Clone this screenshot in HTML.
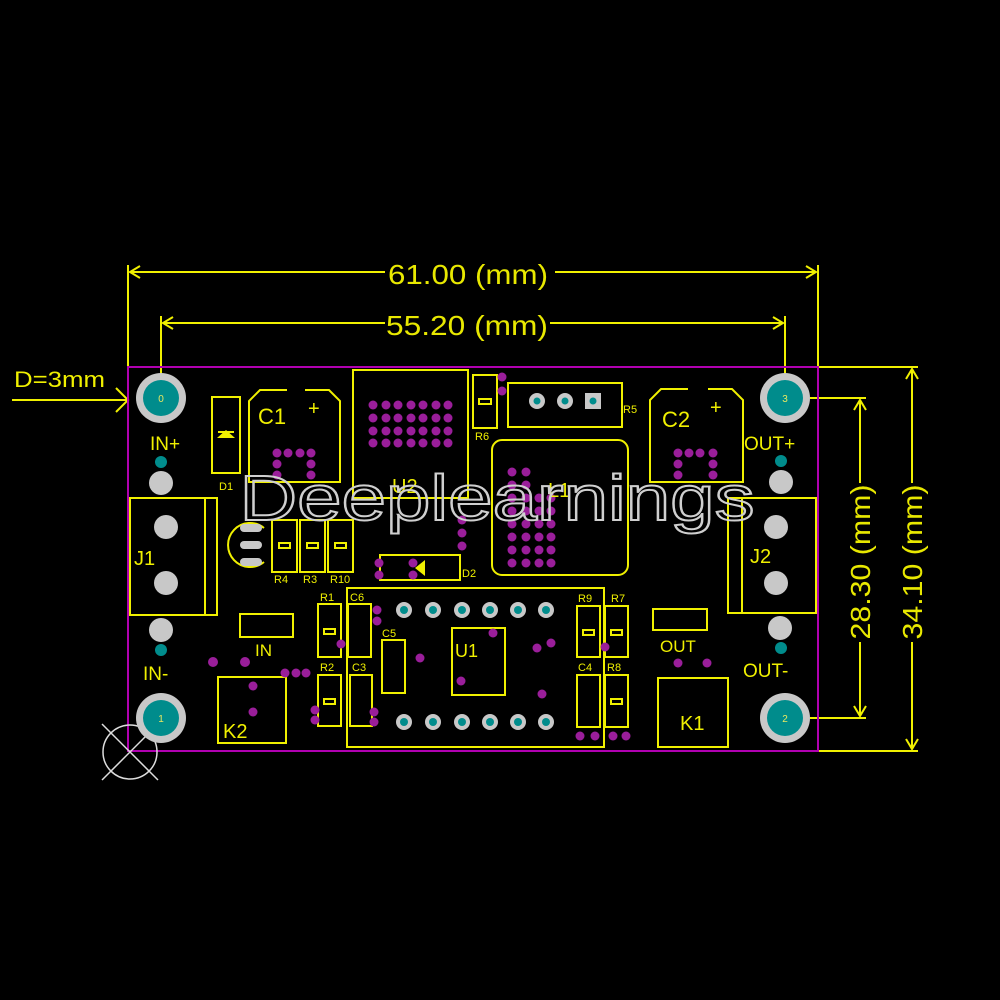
<!DOCTYPE html>
<html><head><meta charset="utf-8"><style>
html,body{margin:0;padding:0;background:#000;width:1000px;height:1000px;overflow:hidden}
svg{display:block}
text{font-family:"Liberation Sans",sans-serif}
</style></head><body>
<svg width="1000" height="1000" viewBox="0 0 1000 1000" xmlns="http://www.w3.org/2000/svg">
<rect width="1000" height="1000" fill="#000"/>
<g stroke="#f0f000" stroke-width="2" fill="none">
<line x1="128" y1="265" x2="128" y2="367"/><line x1="818" y1="265" x2="818" y2="367"/>
<line x1="130" y1="272" x2="385" y2="272"/><line x1="555" y1="272" x2="816" y2="272"/>
<polyline points="140,266 130,272 140,278"/><polyline points="806,266 816,272 806,278"/>
<line x1="161" y1="316" x2="161" y2="375"/><line x1="785" y1="316" x2="785" y2="375"/>
<line x1="163" y1="323" x2="385" y2="323"/><line x1="550" y1="323" x2="783" y2="323"/>
<polyline points="173,317 163,323 173,329"/><polyline points="773,317 783,323 773,329"/>
<line x1="818" y1="367" x2="918" y2="367"/><line x1="818" y1="751" x2="918" y2="751"/>
<line x1="912" y1="369" x2="912" y2="483"/><line x1="912" y1="642" x2="912" y2="749"/>
<polyline points="906,379 912,369 918,379"/><polyline points="906,739 912,749 918,739"/>
<line x1="810" y1="398" x2="866" y2="398"/><line x1="810" y1="718" x2="866" y2="718"/>
<line x1="860" y1="400" x2="860" y2="483"/><line x1="860" y1="642" x2="860" y2="716"/>
<polyline points="854,410 860,400 866,410"/><polyline points="854,706 860,716 866,706"/>
<line x1="12" y1="400" x2="128" y2="400"/><polyline points="116,388 128,400 116,412"/>
</g>
<g fill="#e8e800">
<text x="468" y="284" font-size="28" text-anchor="middle" font-family="Liberation Mono,monospace" textLength="160" lengthAdjust="spacingAndGlyphs">61.00 (mm)</text>
<text x="467" y="335" font-size="28" text-anchor="middle" font-family="Liberation Mono,monospace" textLength="162" lengthAdjust="spacingAndGlyphs">55.20 (mm)</text>
<text transform="translate(870,562) rotate(-90)" font-size="28" text-anchor="middle" font-family="Liberation Mono,monospace" textLength="155" lengthAdjust="spacingAndGlyphs">28.30 (mm)</text>
<text transform="translate(922,562) rotate(-90)" font-size="28" text-anchor="middle" font-family="Liberation Mono,monospace" textLength="155" lengthAdjust="spacingAndGlyphs">34.10 (mm)</text>
</g>
<text x="14" y="387" font-size="22" fill="#f0f000" textLength="91" lengthAdjust="spacingAndGlyphs">D=3mm</text>
<rect x="128" y="367" width="690" height="384" fill="none" stroke="#b000b0" stroke-width="2"/>
<g stroke="#ddd" stroke-width="1.5" fill="none"><circle cx="130" cy="752" r="27"/><line x1="102" y1="724" x2="158" y2="780"/><line x1="158" y1="724" x2="102" y2="780"/></g>
<g>
<circle cx="161" cy="398" r="25" fill="#c8c8c8"/><circle cx="161" cy="398" r="18" fill="#008c8c"/>
<circle cx="785" cy="398" r="25" fill="#c8c8c8"/><circle cx="785" cy="398" r="18" fill="#008c8c"/>
<circle cx="161" cy="718" r="25" fill="#c8c8c8"/><circle cx="161" cy="718" r="18" fill="#008c8c"/>
<circle cx="785" cy="718" r="25" fill="#c8c8c8"/><circle cx="785" cy="718" r="18" fill="#008c8c"/>
</g>
<g fill="#e8e860" font-size="10" text-anchor="middle"><text x="161" y="402">0</text><text x="785" y="402">3</text><text x="161" y="722">1</text><text x="785" y="722">2</text></g>
<g fill="#c8c8c8">
<circle cx="161" cy="483" r="12"/><circle cx="166" cy="527" r="12"/><circle cx="166" cy="583" r="12"/><circle cx="161" cy="630" r="12"/>
<circle cx="781" cy="482" r="12"/><circle cx="776" cy="527" r="12"/><circle cx="776" cy="583" r="12"/><circle cx="780" cy="628" r="12"/>
</g>
<g fill="#008c8c"><circle cx="161" cy="462" r="6"/><circle cx="161" cy="650" r="6"/><circle cx="781" cy="461" r="6"/><circle cx="781" cy="648" r="6"/></g>
<g stroke="#f0f000" stroke-width="2" fill="none">
<rect x="212" y="397" width="28" height="76"/>
<line x1="218" y1="432" x2="234" y2="432"/>
<path d="M287,390 H260 L249,401 V482 H340 V401 L329,390 H305"/>
<rect x="353" y="370" width="115" height="128"/>
<rect x="473" y="375" width="24" height="53"/>
<rect x="479" y="399" width="12" height="5"/>
<rect x="508" y="383" width="114" height="44"/>
<rect x="492" y="440" width="136" height="135" rx="10"/>
<path d="M688,389 H661 L650,400 V482 H743 V400 L732,389 H708"/>
<rect x="130" y="498" width="87" height="117"/><line x1="205" y1="498" x2="205" y2="615"/>
<rect x="728" y="498" width="88" height="115"/><line x1="742" y1="498" x2="742" y2="613"/>
<path d="M264,528 A22,22 0 1,0 264,562"/>
<rect x="272" y="520" width="25" height="52"/><rect x="300" y="520" width="25" height="52"/><rect x="328" y="520" width="25" height="52"/>
<rect x="279" y="543" width="11" height="5"/><rect x="307" y="543" width="11" height="5"/><rect x="335" y="543" width="11" height="5"/>
<rect x="380" y="555" width="80" height="25"/>
<rect x="347" y="588" width="257" height="159"/>
<rect x="452" y="628" width="53" height="67"/>
<rect x="318" y="604" width="23" height="53"/><rect x="348" y="604" width="23" height="53"/><rect x="382" y="640" width="23" height="53"/>
<rect x="318" y="675" width="23" height="51"/><rect x="350" y="675" width="22" height="51"/>
<rect x="324" y="629" width="11" height="5"/><rect x="324" y="699" width="11" height="5"/>
<rect x="577" y="606" width="23" height="51"/><rect x="605" y="606" width="23" height="51"/>
<rect x="577" y="675" width="23" height="52"/><rect x="605" y="675" width="23" height="52"/>
<rect x="583" y="630" width="11" height="5"/><rect x="611" y="630" width="11" height="5"/><rect x="611" y="699" width="11" height="5"/>
<rect x="240" y="614" width="53" height="23"/><rect x="653" y="609" width="54" height="21"/>
<rect x="218" y="677" width="68" height="66"/><rect x="658" y="678" width="70" height="69"/>
</g>
<polygon points="217,438 235,438 226,430" fill="#f0f000"/>
<polygon points="415,568 425,560 425,576" fill="#f0f000"/>
<g fill="#c8c8c8"><rect x="240" y="524" width="22" height="8" rx="4"/><rect x="240" y="541" width="22" height="8" rx="4"/><rect x="240" y="558" width="22" height="8" rx="4"/></g>
<g fill="#c8c8c8"><circle cx="537" cy="401" r="8"/><circle cx="565" cy="401" r="8"/><rect x="585" y="393" width="16" height="16"/></g>
<g fill="#008c8c"><circle cx="537" cy="401" r="3.5"/><circle cx="565" cy="401" r="3.5"/><circle cx="593" cy="401" r="3.5"/></g>
<g fill="#c8c8c8">
<circle cx="404" cy="610" r="8"/><circle cx="433" cy="610" r="8"/><circle cx="462" cy="610" r="8"/><circle cx="490" cy="610" r="8"/><circle cx="518" cy="610" r="8"/><circle cx="546" cy="610" r="8"/>
<circle cx="404" cy="722" r="8"/><circle cx="433" cy="722" r="8"/><circle cx="462" cy="722" r="8"/><circle cx="490" cy="722" r="8"/><circle cx="518" cy="722" r="8"/><circle cx="546" cy="722" r="8"/>
</g>
<g fill="#008c8c">
<circle cx="404" cy="610" r="4"/><circle cx="433" cy="610" r="4"/><circle cx="462" cy="610" r="4"/><circle cx="490" cy="610" r="4"/><circle cx="518" cy="610" r="4"/><circle cx="546" cy="610" r="4"/>
<circle cx="404" cy="722" r="4"/><circle cx="433" cy="722" r="4"/><circle cx="462" cy="722" r="4"/><circle cx="490" cy="722" r="4"/><circle cx="518" cy="722" r="4"/><circle cx="546" cy="722" r="4"/>
</g>
<g fill="#9a1e9a">
<g id="u2g">
<circle cx="373" cy="405" r="4.5"/><circle cx="386" cy="405" r="4.5"/><circle cx="398" cy="405" r="4.5"/><circle cx="411" cy="405" r="4.5"/><circle cx="423" cy="405" r="4.5"/><circle cx="436" cy="405" r="4.5"/><circle cx="448" cy="405" r="4.5"/>
</g>
<use href="#u2g" y="13"/><use href="#u2g" y="26"/><use href="#u2g" y="38"/>
<circle cx="277" cy="453" r="4.5"/><circle cx="288" cy="453" r="4.5"/><circle cx="300" cy="453" r="4.5"/><circle cx="311" cy="453" r="4.5"/>
<circle cx="277" cy="464" r="4.5"/><circle cx="311" cy="464" r="4.5"/><circle cx="277" cy="475" r="4.5"/><circle cx="311" cy="475" r="4.5"/>
<circle cx="678" cy="453" r="4.5"/><circle cx="689" cy="453" r="4.5"/><circle cx="700" cy="453" r="4.5"/><circle cx="713" cy="453" r="4.5"/>
<circle cx="678" cy="464" r="4.5"/><circle cx="713" cy="464" r="4.5"/><circle cx="678" cy="475" r="4.5"/><circle cx="713" cy="475" r="4.5"/>
<g id="l1g"><circle cx="512" cy="498" r="4.5"/><circle cx="526" cy="498" r="4.5"/><circle cx="539" cy="498" r="4.5"/><circle cx="551" cy="498" r="4.5"/></g>
<use href="#l1g" y="13"/><use href="#l1g" y="26"/><use href="#l1g" y="39"/><use href="#l1g" y="52"/><use href="#l1g" y="65"/>
<circle cx="512" cy="485" r="4.5"/><circle cx="526" cy="485" r="4.5"/><circle cx="512" cy="472" r="4.5"/><circle cx="526" cy="472" r="4.5"/>
<circle cx="462" cy="520" r="4.5"/><circle cx="462" cy="533" r="4.5"/><circle cx="462" cy="546" r="4.5"/>
<circle cx="379" cy="563" r="4.5"/><circle cx="379" cy="575" r="4.5"/><circle cx="413" cy="563" r="4.5"/><circle cx="413" cy="575" r="4.5"/>
<circle cx="502" cy="377" r="4.5"/><circle cx="502" cy="391" r="4.5"/>
<circle cx="213" cy="662" r="5"/><circle cx="245" cy="662" r="5"/><circle cx="285" cy="673" r="4.5"/><circle cx="296" cy="673" r="4.5"/><circle cx="306" cy="673" r="4.5"/>
<circle cx="253" cy="686" r="4.5"/><circle cx="253" cy="712" r="4.5"/>
<circle cx="377" cy="610" r="4.5"/><circle cx="377" cy="621" r="4.5"/><circle cx="341" cy="644" r="4.5"/><circle cx="420" cy="658" r="4.5"/>
<circle cx="315" cy="710" r="4.5"/><circle cx="315" cy="720" r="4.5"/><circle cx="374" cy="712" r="4.5"/><circle cx="374" cy="722" r="4.5"/>
<circle cx="461" cy="681" r="4.5"/><circle cx="493" cy="633" r="4.5"/><circle cx="537" cy="648" r="4.5"/><circle cx="551" cy="643" r="4.5"/><circle cx="542" cy="694" r="4.5"/>
<circle cx="605" cy="647" r="4.5"/><circle cx="580" cy="736" r="4.5"/><circle cx="595" cy="736" r="4.5"/><circle cx="613" cy="736" r="4.5"/><circle cx="626" cy="736" r="4.5"/>
<circle cx="678" cy="663" r="4.5"/><circle cx="707" cy="663" r="4.5"/>
</g>
<g fill="#f0f000">
<text x="258" y="424" font-size="22">C1</text><text x="308" y="415" font-size="20">+</text>
<text x="662" y="427" font-size="22">C2</text><text x="710" y="414" font-size="20">+</text>
<text x="150" y="450" font-size="19">IN+</text><text x="143" y="680" font-size="19">IN-</text>
<text x="744" y="450" font-size="19">OUT+</text><text x="743" y="677" font-size="19">OUT-</text>
<text x="134" y="565" font-size="20">J1</text><text x="750" y="563" font-size="20">J2</text>
<text x="455" y="657" font-size="18">U1</text><text x="392" y="493" font-size="20">U2</text><text x="548" y="497" font-size="20">L1</text>
<text x="223" y="738" font-size="20">K2</text><text x="680" y="730" font-size="20">K1</text>
<text x="255" y="656" font-size="17">IN</text><text x="660" y="652" font-size="17">OUT</text>
<g font-size="11"><text x="219" y="490">D1</text><text x="462" y="577">D2</text><text x="475" y="440">R6</text><text x="623" y="413">R5</text>
<text x="274" y="583">R4</text><text x="303" y="583">R3</text><text x="330" y="583">R10</text>
<text x="320" y="601">R1</text><text x="350" y="601">C6</text><text x="382" y="637">C5</text><text x="320" y="671">R2</text><text x="352" y="671">C3</text>
<text x="578" y="602">R9</text><text x="611" y="602">R7</text><text x="578" y="671">C4</text><text x="607" y="671">R8</text></g>
</g>
<text x="497" y="520" font-size="64" text-anchor="middle" fill="none" stroke="#cfcfcf" stroke-width="2" font-family="DejaVu Sans,sans-serif" textLength="515" lengthAdjust="spacingAndGlyphs">Deeplearnings</text>
</svg>
</body></html>
